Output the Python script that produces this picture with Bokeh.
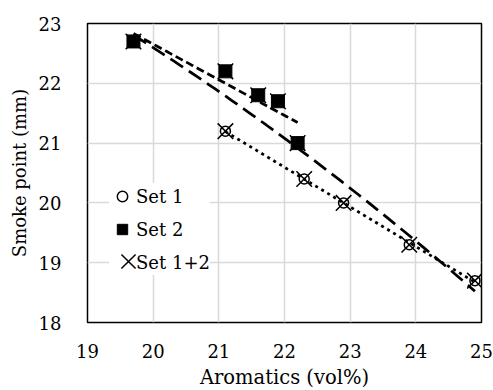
import numpy as np
from bokeh.plotting import figure
from bokeh.models import Legend, LegendItem, FixedTicker, Range1d, Title
from bokeh.embed import file_html
from bokeh.resources import INLINE

# Data
set1_x = [21.1, 22.3, 22.9, 23.9, 24.9]
set1_y = [21.2, 20.4, 20.0, 19.3, 18.7]
set2_x = [19.7, 21.1, 21.6, 21.9, 22.2]
set2_y = [22.7, 22.2, 21.8, 21.7, 21.0]
all_x = set1_x + set2_x
all_y = set1_y + set2_y
x_ticks = [19, 20, 21, 22, 23, 24, 25]
y_ticks = [18, 19, 20, 21, 22, 23]

FONT = "DejaVu Serif"

p = figure(frame_width=394, frame_height=299, output_backend="svg", toolbar_location=None,
           x_range=Range1d(19, 25), y_range=Range1d(18, 23),
           min_border_left=85, min_border_right=14, min_border_top=23, min_border_bottom=67)

p.outline_line_color = "black"
p.outline_line_width = 1.5
p.background_fill_color = "white"
p.border_fill_color = "white"

for ax in (p.xaxis[0], p.yaxis[0]):
    ax.axis_line_color = None
    ax.major_tick_line_color = None
    ax.minor_tick_line_color = None
    ax.major_label_text_font = FONT
    ax.major_label_text_font_size = "18px"
    ax.major_label_text_color = "black"
    ax.axis_label_text_font = FONT
    ax.axis_label_text_font_size = "19.5px"
    ax.axis_label_text_font_style = "normal"
    ax.axis_label_text_color = "black"

p.xaxis.ticker = FixedTicker(ticks=x_ticks)
p.yaxis.ticker = FixedTicker(ticks=y_ticks)
p.xaxis.axis_label = "Aromatics (vol%)"
p.xaxis.major_label_standoff = 15
p.yaxis.major_label_standoff = 20
p.xaxis.axis_label_standoff = 5

ytitle = Title(text="Smoke point (mm)", align="center", offset=37,
               text_font=FONT, text_font_size="18px", text_font_style="normal",
               text_color="black", standoff=12)
p.add_layout(ytitle, "left")

p.xgrid.grid_line_color = "#d9d9d9"
p.ygrid.grid_line_color = "#d9d9d9"
p.xgrid.grid_line_width = 1.5
p.ygrid.grid_line_width = 1.5

# Trendlines: linear for each set, order-2 polynomial for the combined set
def trend(xs, ys, deg):
    c = np.polyfit(xs, ys, deg)
    xx = np.linspace(min(xs), max(xs), 60)
    return xx, np.polyval(c, xx)

tx1, ty1 = trend(set1_x, set1_y, 1)
tx2, ty2 = trend(set2_x, set2_y, 1)
txa, tya = trend(all_x, all_y, 2)

p.line(txa, tya, line_color="black", line_width=2.75, line_dash="15 7")
p.line(tx2, ty2, line_color="black", line_width=2.75, line_dash="8 4")
p.line(tx1, ty1, line_color="black", line_width=2.75, line_dash="3 4")

r1 = p.scatter(set1_x, set1_y, marker="circle", size=10, fill_color=None,
               line_color="black", line_width=1.5)
r2 = p.scatter(set2_x, set2_y, marker="square", size=13, fill_color="black",
               line_color="black", line_width=1)
r3 = p.scatter(all_x, all_y, marker="x", size=22, line_color="black", line_width=1.5)
# empty helper renderer: reserves the third legend row for the label only
r_blank = p.scatter(x=[], y=[], marker="x", line_alpha=0, fill_alpha=0)

def style(lg):
    lg.label_text_font = FONT
    lg.label_text_font_size = "18px"
    lg.label_text_color = "black"
    lg.border_line_color = None
    lg.margin = 0
    lg.label_height = 22

legend_a = Legend(items=[LegendItem(label="Set 1", renderers=[r1]),
                         LegendItem(label="Set 2", renderers=[r2]),
                         LegendItem(label="Set 1+2", renderers=[r_blank])],
                  location=(22, 47))
style(legend_a)
legend_a.background_fill_color = "white"
legend_a.background_fill_alpha = 1.0
legend_a.padding = 6
legend_a.spacing = 7
legend_a.glyph_width = 26
legend_a.glyph_height = 26
legend_a.label_standoff = 1
p.add_layout(legend_a, "center")

# Larger glyph box so the legend's X matches the plotted X
legend_b = Legend(items=[LegendItem(label=" ", renderers=[r3])], location=(16, 36))
style(legend_b)
legend_b.background_fill_alpha = 0
legend_b.padding = 0
legend_b.glyph_width = 50
legend_b.glyph_height = 50
legend_b.label_standoff = 0
p.add_layout(legend_b, "center")

open("out.html", "w").write(file_html(p, INLINE))
